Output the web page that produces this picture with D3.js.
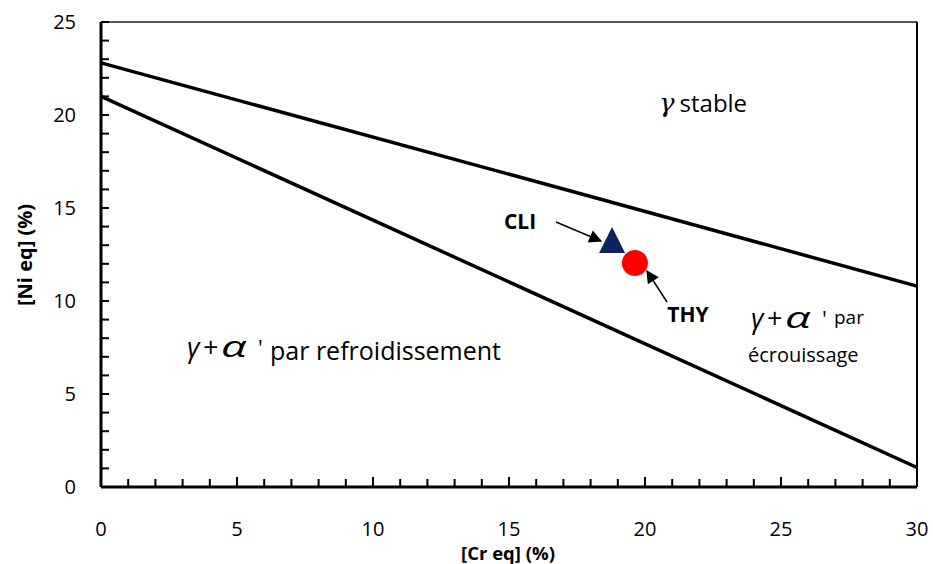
<!DOCTYPE html>
<html><head><meta charset="utf-8">
<script src="https://cdn.jsdelivr.net/npm/d3@7"></script>
<style>body{margin:0;background:#fff;} text{font-family:"Open Sans",sans-serif;}</style>
</head><body>
<svg id="c" width="933" height="564"></svg>
<script>
const xTicks = [0,5,10,15,20,25,30];
const yTicks = [0,5,10,15,20,25];
const upperLine = [{x:0,y:22.8},{x:17.3,y:15.9},{x:30,y:10.8}];
const lowerLine = [{x:0,y:21.0},{x:30,y:1.05}];
const samples = [{name:"CLI",x:18.79,y:13.28,shape:"triangle",color:"#0d2460"},
                 {name:"THY",x:19.63,y:12.04,shape:"circle",color:"#ff0000"}];

const svg = d3.select("#c");
const x = d3.scaleLinear().domain([0,30]).range([101,917]);
const y = d3.scaleLinear().domain([0,25]).range([487,22]);

// frame
svg.append("line").attr("x1",x(0)).attr("x2",x(30)).attr("y1",y(25)).attr("y2",y(25)).attr("stroke","#555").attr("stroke-width",2);
svg.append("line").attr("x1",x(30)).attr("x2",x(30)).attr("y1",y(25)).attr("y2",y(0)).attr("stroke","#000").attr("stroke-width",2);

// minor/major ticks
const xAll = d3.range(0,31,1), yAll = d3.range(0,26,1);
svg.append("g").selectAll("line").data(xAll).join("line")
  .attr("x1",d=>x(d)).attr("x2",d=>x(d)).attr("y1",y(0)).attr("y2",d=>y(0)-(d%5===0?10:8))
  .attr("stroke","#000").attr("stroke-width",2);
svg.append("g").selectAll("line").data(yAll).join("line")
  .attr("y1",d=>y(d)).attr("y2",d=>y(d)).attr("x1",x(0)).attr("x2",x(0)+8)
  .attr("stroke","#000").attr("stroke-width",2);

// axes lines
svg.append("line").attr("x1",x(0)).attr("x2",x(30)).attr("y1",y(0)).attr("y2",y(0)).attr("stroke","#000").attr("stroke-width",3);
svg.append("line").attr("x1",x(0)).attr("x2",x(0)).attr("y1",y(25)).attr("y2",y(0)).attr("stroke","#000").attr("stroke-width",3);

// tick labels
svg.append("g").selectAll("text").data(xTicks).join("text")
  .attr("x",d=>x(d)).attr("y",536).attr("text-anchor","middle").attr("font-size",20).text(d=>d);
svg.append("g").selectAll("text").data(yTicks).join("text")
  .attr("x",76).attr("y",d=>y(d)+7).attr("text-anchor","end").attr("font-size",20).text(d=>d);

// axis titles
svg.append("text").attr("x",508).attr("y",560).attr("text-anchor","middle").attr("font-size",18.5).attr("font-weight","bold").text("[Cr eq] (%)");
svg.append("text").attr("transform","translate(32,255) rotate(-90)").attr("text-anchor","middle").attr("font-size",20).attr("font-weight","bold").text("[Ni eq] (%)");

// lines
const line = d3.line().x(d=>x(d.x)).y(d=>y(d.y));
[upperLine, lowerLine].forEach(l=>svg.append("path").attr("d",line(l)).attr("fill","none").attr("stroke","#000").attr("stroke-width",3.5));

// arrows
svg.append("defs").append("marker").attr("id","ah").attr("viewBox","0 0 10 10").attr("refX",9).attr("refY",5)
  .attr("markerWidth",15).attr("markerHeight",13).attr("markerUnits","userSpaceOnUse").attr("orient","auto")
  .append("path").attr("d","M0,0 L10,5 L0,10 z").attr("fill","#000");
svg.append("line").attr("x1",556).attr("y1",222).attr("x2",601).attr("y2",241).attr("stroke","#000").attr("stroke-width",1.5).attr("marker-end","url(#ah)");
svg.append("line").attr("x1",667).attr("y1",302).attr("x2",647).attr("y2",271).attr("stroke","#000").attr("stroke-width",1.5).attr("marker-end","url(#ah)");

// points
samples.forEach(s=>{
  const cx = x(s.x), cy = y(s.y);
  if (s.shape==="triangle") {
    const h = 13;
    svg.append("path").attr("d",`M${cx},${cy-h}L${cx+h},${cy+h}L${cx-h},${cy+h}Z`).attr("fill",s.color);
  } else {
    svg.append("circle").attr("cx",cx).attr("cy",cy).attr("r",13).attr("fill",s.color);
  }
});

// sample labels
svg.append("text").attr("x",520).attr("y",229).attr("text-anchor","middle").attr("font-size",21).attr("font-weight","bold").text("CLI");
svg.append("text").attr("x",688).attr("y",322).attr("text-anchor","middle").attr("font-size",21).attr("font-weight","bold").text("THY");

// region labels
const greek = "'DejaVu Serif',serif";
function gpa(x0, base) {
  svg.append("text").attr("x",x0).attr("y",base).attr("font-family",greek).attr("font-style","italic").attr("font-size",27).text("γ");
  svg.append("text").attr("x",x0+16).attr("y",base).attr("font-family",greek).attr("font-size",27).text("+");
  svg.append("text").attr("transform",`translate(${x0+34},${base}) scale(1.5,1)`).attr("font-family",greek).attr("font-style","italic").attr("font-size",30).text("α");
  svg.append("text").attr("x",x0+71).attr("y",base-1).attr("font-family",greek).attr("font-size",22).text("'");
}
let t = svg.append("text").attr("x",659).attr("y",112).attr("font-size",24);
t.append("tspan").attr("font-family",greek).attr("font-style","italic").attr("font-size",26).text("γ");
t.append("tspan").attr("dx",5).text("stable");

gpa(187, 357);
svg.append("text").attr("x",270).attr("y",360).attr("font-size",25).text("par refroidissement");

gpa(751, 328);
svg.append("text").attr("x",834).attr("y",324).attr("font-size",19).text("par");
svg.append("text").attr("x",748).attr("y",362).attr("font-size",20).text("écrouissage");
</script>
</body></html>
